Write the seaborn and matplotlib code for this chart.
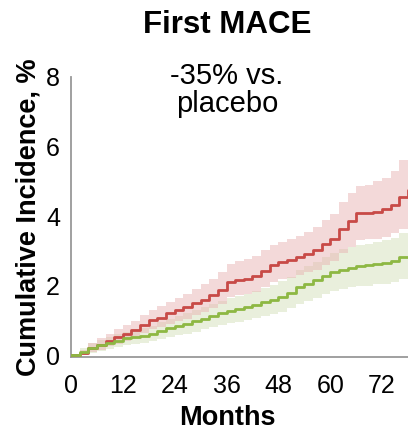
import numpy as np
import pandas as pd
import matplotlib
matplotlib.use("Agg")
import matplotlib.pyplot as plt
import seaborn as sns

months = [0, 2, 4, 6, 8, 10, 12, 14, 16, 18, 20, 22, 24, 26, 28, 30, 32, 34, 36, 38,
          40, 42, 44, 46, 48, 50, 52, 54, 56, 58, 60, 62, 64, 66, 68, 70, 72, 74, 76, 78]

placebo = [0, 0.05, 0.2, 0.3, 0.42, 0.52, 0.62, 0.72, 0.88, 1.0, 1.08, 1.2, 1.29, 1.38,
           1.5, 1.6, 1.72, 1.87, 2.1, 2.16, 2.2, 2.28, 2.42, 2.58, 2.68, 2.74, 2.83, 2.92,
           3.02, 3.2, 3.35, 3.62, 3.85, 4.08, 4.1, 4.12, 4.2, 4.32, 4.56, 4.75]
placebo_lo = [0, 0.0, 0.08, 0.15, 0.25, 0.33, 0.42, 0.5, 0.64, 0.74, 0.8, 0.9, 0.98, 1.05,
              1.15, 1.25, 1.35, 1.48, 1.68, 1.73, 1.76, 1.83, 1.95, 2.1, 2.18, 2.23, 2.3, 2.38,
              2.46, 2.6, 2.72, 2.95, 3.12, 3.32, 3.33, 3.34, 3.4, 3.5, 3.62, 3.75]
placebo_hi = [0, 0.15, 0.35, 0.48, 0.62, 0.74, 0.86, 0.98, 1.15, 1.3, 1.4, 1.54, 1.65, 1.76,
              1.9, 2.05, 2.2, 2.4, 2.62, 2.7, 2.76, 2.85, 3.02, 3.18, 3.26, 3.33, 3.42, 3.55,
              3.68, 3.88, 4.05, 4.4, 4.65, 4.85, 4.9, 5.0, 5.1, 5.3, 5.6, 5.78]

active = [0, 0.1, 0.2, 0.28, 0.35, 0.42, 0.48, 0.52, 0.56, 0.62, 0.7, 0.78, 0.84, 0.9,
          0.98, 1.05, 1.12, 1.2, 1.27, 1.32, 1.38, 1.45, 1.52, 1.6, 1.68, 1.8, 1.95, 2.05,
          2.15, 2.28, 2.38, 2.45, 2.52, 2.55, 2.58, 2.63, 2.66, 2.72, 2.83, 2.83]
active_lo = [0, 0.0, 0.06, 0.12, 0.18, 0.24, 0.3, 0.33, 0.36, 0.4, 0.46, 0.52, 0.57, 0.62,
             0.68, 0.74, 0.8, 0.86, 0.92, 0.96, 1.0, 1.06, 1.12, 1.18, 1.25, 1.35, 1.48, 1.56,
             1.64, 1.75, 1.84, 1.9, 1.96, 1.98, 2.0, 2.04, 2.06, 2.1, 2.2, 2.2]
active_hi = [0, 0.2, 0.34, 0.44, 0.52, 0.6, 0.68, 0.72, 0.78, 0.85, 0.95, 1.05, 1.12, 1.2,
             1.3, 1.38, 1.46, 1.56, 1.64, 1.7, 1.77, 1.85, 1.93, 2.03, 2.12, 2.26, 2.44, 2.56,
             2.68, 2.82, 2.95, 3.04, 3.12, 3.16, 3.2, 3.26, 3.3, 3.38, 3.52, 3.55]

groups = ["Placebo", "Active"]
colors = {"Placebo": "#c84a47", "Active": "#8db843"}
band_colors = {"Placebo": "#f2d7d7", "Active": "#e9efdc"}

xticks = [0, 12, 24, 36, 48, 60, 72]
yticks = [0, 2, 4, 6, 8]

df = pd.DataFrame({
    "Months": months * 2,
    "Incidence": placebo + active,
    "Group": ["Placebo"] * len(months) + ["Active"] * len(months),
})

sns.set_style("white")
plt.rcParams["font.family"] = ["Liberation Sans", "DejaVu Sans"]
plt.rcParams["text.color"] = "black"
plt.rcParams["axes.labelcolor"] = "black"
plt.rcParams["xtick.color"] = "black"
plt.rcParams["ytick.color"] = "black"

fig = plt.figure(figsize=(4.08, 4.32), dpi=100)
ax = fig.add_axes([0.174, 0.173, 0.826, 0.649])

ax.fill_between(months, active_lo, active_hi, step="post",
                color=band_colors["Active"], lw=0, zorder=1)
ax.fill_between(months, placebo_lo, placebo_hi, step="post",
                color="#e8b4b4", alpha=0.5, lw=0, zorder=2)

sns.lineplot(data=df, x="Months", y="Incidence", hue="Group", palette=colors,
             estimator=None, drawstyle="steps-post", linewidth=2.0,
             legend=False, ax=ax, zorder=3)

ax.set_xlim(0, 78)
ax.set_ylim(-0.06, 8)
ax.set_xticks(xticks)
ax.set_yticks(yticks)
ax.tick_params(axis="x", length=9, width=1.3, color="#999999", labelcolor="black",
               labelsize=18, pad=3)
ax.tick_params(axis="y", length=6, width=1.3, color="#999999", labelcolor="black",
               labelsize=18, pad=2)
for s in ["top", "right"]:
    ax.spines[s].set_visible(False)
for s in ["left", "bottom"]:
    ax.spines[s].set_color("#999999")
    ax.spines[s].set_linewidth(1.3)

ax.set_xlabel("Months", fontsize=19.5, fontweight="bold", color="black",
              va="center")
ax.xaxis.set_label_coords(0.463, -0.218)
ax.set_ylabel("Cumulative Incidence, %", fontsize=19.5, fontweight="bold",
              labelpad=3, color="black")

fig.text(0.556, 0.942, "First MACE", ha="center", va="center",
         fontsize=22.5, fontweight="bold", color="black")
fig.text(0.556, 0.792, "-35% vs.\nplacebo", ha="center", va="center",
         fontsize=21, linespacing=1.0, color="black")

fig.savefig("out.png", dpi=100)
